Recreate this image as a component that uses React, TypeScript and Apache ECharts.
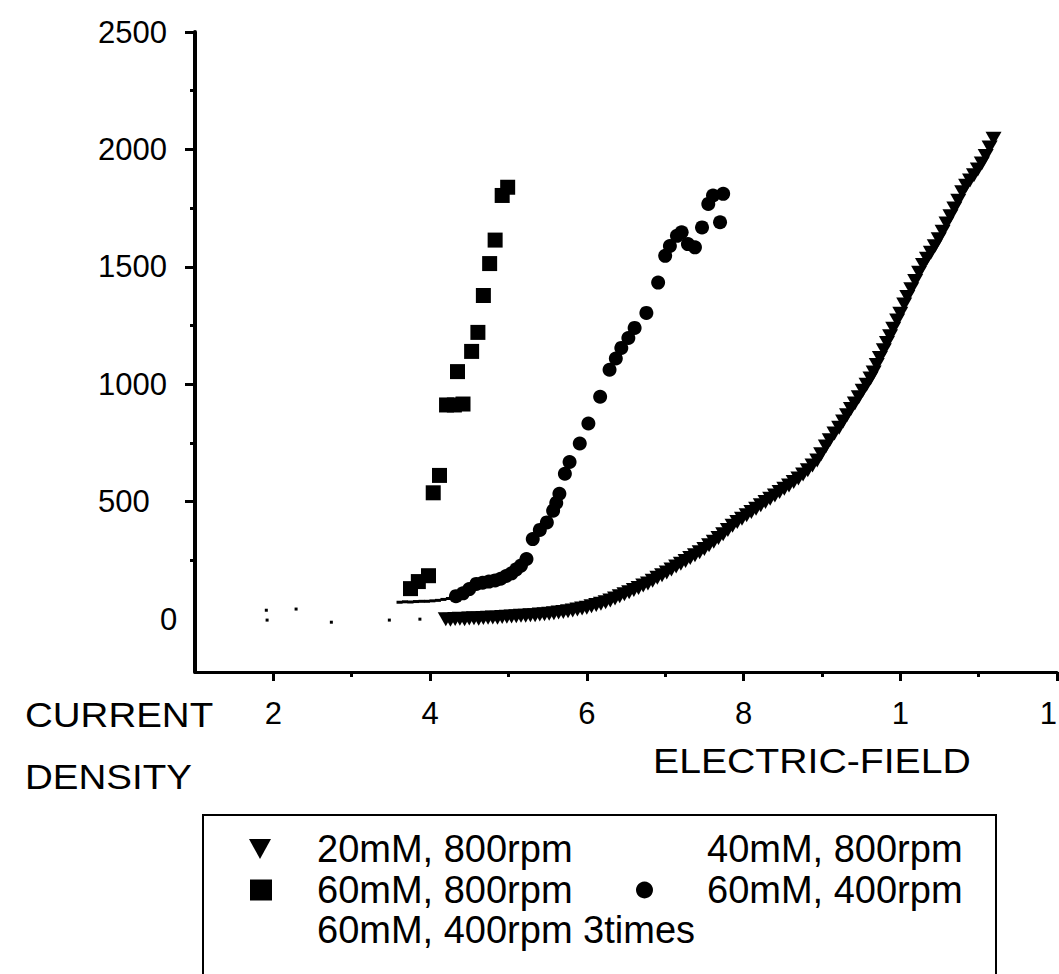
import React, { useEffect, useRef } from "react";
import * as echarts from "echarts";

const FONT = '"Liberation Sans", Arial, sans-serif';

// axis ticks / labels
const X_TICKS = [2, 4, 6, 8, 10, 12];
const X_TICK_LABELS = ["2", "4", "6", "8", "1", "1"];
const X_MINOR = [3, 5, 7, 9, 11];
const Y_TICKS = [0, 500, 1000, 1500, 2000, 2500];
const Y_TICK_MARKS = [500, 1000, 1500, 2000, 2500];
const Y_MINOR = [250, 750, 1250, 1750, 2250];

const SERIES_NAMES = [
  "20mM, 800rpm",
  "40mM, 800rpm",
  "60mM, 800rpm",
  "60mM, 400rpm",
  "60mM, 400rpm 3times",
];

// 20mM, 800rpm (down triangles)
const s20mM800: [number, number][] = [
  [4.2, 0], [4.26, -2], [4.32, 1], [4.38, 2], [4.44, 0], [4.5, 3], [4.56, 4], [4.62, 2],
  [4.68, 5], [4.74, 6], [4.8, 7], [4.86, 6], [4.92, 9], [4.98, 10], [5.04, 11], [5.1, 12],
  [5.16, 14], [5.22, 15], [5.28, 17], [5.34, 17], [5.4, 20], [5.46, 21], [5.52, 23], [5.58, 25],
  [5.64, 28], [5.7, 31], [5.76, 34], [5.82, 37], [5.88, 41], [5.94, 45], [6.0, 49], [6.06, 55],
  [6.12, 60], [6.18, 66], [6.24, 72], [6.3, 79], [6.36, 88], [6.42, 97], [6.48, 106], [6.54, 115],
  [6.6, 124], [6.66, 133], [6.72, 143], [6.78, 152], [6.84, 164], [6.9, 176], [6.96, 187], [7.02, 199],
  [7.08, 211], [7.14, 224], [7.2, 236], [7.26, 248], [7.32, 260], [7.38, 272], [7.44, 285], [7.5, 299],
  [7.56, 315], [7.62, 330], [7.68, 346], [7.74, 362], [7.8, 380], [7.86, 398], [7.92, 414], [7.98, 428],
  [8.04, 442], [8.1, 456], [8.16, 470], [8.22, 485], [8.28, 499], [8.34, 513], [8.4, 527], [8.46, 541],
  [8.52, 555], [8.58, 569], [8.64, 584], [8.7, 599], [8.76, 616], [8.82, 634], [8.88, 654], [8.94, 676],
  [8.99, 702], [9.05, 735], [9.1, 762], [9.16, 790], [9.22, 815], [9.27, 842], [9.32, 868], [9.37, 895],
  [9.42, 918], [9.47, 945], [9.52, 972], [9.57, 998], [9.62, 1025], [9.66, 1050], [9.7, 1082], [9.74, 1112],
  [9.79, 1145], [9.83, 1176], [9.87, 1205], [9.91, 1236], [9.96, 1272], [10.0, 1300], [10.05, 1340], [10.09, 1372],
  [10.14, 1405], [10.19, 1440], [10.24, 1475], [10.29, 1508], [10.34, 1535], [10.39, 1560], [10.44, 1588], [10.49, 1618],
  [10.54, 1650], [10.59, 1685], [10.64, 1716], [10.69, 1748], [10.74, 1782], [10.79, 1818], [10.84, 1845], [10.89, 1868],
  [10.94, 1890], [10.99, 1915], [11.04, 1940], [11.09, 1972], [11.14, 2008], [11.19, 2045],
];

// 40mM, 800rpm (tiny specks near zero)
const s40mM800: [number, number][] = [
  [1.91, 38], [2.29, 43], [1.92, -4], [2.74, -13], [3.48, -4], [3.87, 0],
];

// 60mM, 800rpm (squares)
const s60mM800: [number, number][] = [
  [3.75, 130], [3.85, 160], [3.98, 185], [4.04, 538], [4.12, 612], [4.21, 912], [4.31, 912],
  [4.42, 916], [4.35, 1054], [4.53, 1140], [4.61, 1221], [4.68, 1378], [4.76, 1514], [4.83, 1614],
  [4.92, 1804], [4.99, 1839],
];

// 60mM, 400rpm (circles)
const s60mM400: [number, number][] = [
  [4.33, 98], [4.42, 110], [4.5, 128], [4.59, 150], [4.67, 155], [4.75, 160], [4.83, 165], [4.9, 172],
  [4.97, 184], [5.04, 195], [5.1, 212], [5.16, 228], [5.23, 256], [5.31, 341], [5.4, 380], [5.49, 412],
  [5.57, 462], [5.61, 495], [5.65, 534], [5.72, 619], [5.78, 669], [5.91, 748], [6.02, 833], [6.17, 947],
  [6.29, 1062], [6.37, 1110], [6.44, 1155], [6.53, 1197], [6.61, 1240], [6.76, 1304], [6.91, 1433], [7.0, 1547],
  [7.06, 1589], [7.15, 1632], [7.21, 1647], [7.29, 1597], [7.38, 1583], [7.47, 1668], [7.55, 1768], [7.61, 1804],
  [7.74, 1811], [7.7, 1690],
];

// 60mM, 400rpm 3times (thin trace)
const s60mM400x3: [number, number][] = [
  [3.61, 72], [3.68, 74], [3.75, 73], [3.82, 75], [3.89, 76], [3.96, 76], [4.03, 78], [4.1, 80],
  [4.17, 84], [4.24, 88],
];

const DOWN_TRIANGLE = "path://M0,0 L10,0 L5,9 Z";

export default function App() {
  const ref = useRef<HTMLDivElement>(null);

  useEffect(() => {
    if (!ref.current) return;
    const chart = echarts.init(ref.current, undefined, { renderer: "svg" });

    const labelFont = { fontFamily: FONT, fontSize: 31, color: "#000" };
    const legendText = { fontFamily: FONT, fontSize: 38, color: "#000", lineHeight: 40 };
    const markStyle = { color: "#000", opacity: 1 };

    const mkLegend = (
      name: string,
      left: number,
      top: number,
      iconW: number,
      iconH: number,
      pad: number,
      hideIcon: boolean
    ) => ({
      show: true,
      selectedMode: false,
      orient: "horizontal",
      left,
      top,
      padding: 0,
      itemWidth: iconW,
      itemHeight: iconH,
      data: [hideIcon ? { name, itemStyle: { opacity: 0 } } : { name }],
      textStyle: { ...legendText, padding: [0, 0, 0, pad] },
    });

    const option: any = {
      animation: false,
      backgroundColor: "#fff",
      textStyle: { fontFamily: FONT },
      grid: {
        left: 195,
        right: 2,
        top: 32,
        bottom: 302,
        containLabel: false,
        outerBoundsMode: "none",
      },
      xAxis: [
        {
          type: "value",
          min: 1,
          max: 12,
          position: "bottom",
          splitLine: { show: false },
          axisLine: { show: true, onZero: false, lineStyle: { color: "#000", width: 3 } },
          axisTick: { show: true, customValues: X_TICKS, length: 9, lineStyle: { color: "#000", width: 3 } },
          axisLabel: {
            show: true,
            customValues: X_TICKS,
            margin: 26,
            alignMaxLabel: "right",
            ...labelFont,
            formatter: (v: number) => X_TICK_LABELS[X_TICKS.indexOf(v)] ?? String(v),
          },
        },
        {
          type: "value",
          min: 1,
          max: 12,
          position: "bottom",
          splitLine: { show: false },
          axisLine: { show: false, onZero: false },
          axisTick: { show: true, customValues: X_MINOR, length: 5, lineStyle: { color: "#000", width: 3 } },
          axisLabel: { show: false },
        },
      ],
      yAxis: [
        {
          type: "value",
          min: -225,
          max: 2500,
          position: "left",
          splitLine: { show: false },
          axisLine: { show: true, onZero: false, lineStyle: { color: "#000", width: 4 } },
          axisTick: { show: true, customValues: Y_TICK_MARKS, length: 10, lineStyle: { color: "#000", width: 3 } },
          axisLabel: {
            show: true,
            customValues: Y_TICKS,
            align: "left",
            margin: 97,
            ...labelFont,
            formatter: (v: number) => (v === 0 ? "{z|0}" : String(v)),
            rich: { z: { ...labelFont, padding: [0, 0, 0, 62] } },
          },
        },
        {
          type: "value",
          min: -225,
          max: 2500,
          position: "left",
          splitLine: { show: false },
          axisLine: { show: false, onZero: false },
          axisTick: { show: true, customValues: Y_MINOR, length: 5, lineStyle: { color: "#000", width: 3 } },
          axisLabel: { show: false },
        },
      ],
      legend: [
        mkLegend(SERIES_NAMES[0], 249, 829, 22, 20, 41, false),
        mkLegend(SERIES_NAMES[1], 636, 829, 17, 17, 49, true),
        mkLegend(SERIES_NAMES[2], 250, 870, 22, 21, 40, false),
        mkLegend(SERIES_NAMES[3], 636, 870, 17, 17, 49, false),
        mkLegend(SERIES_NAMES[4], 249, 910, 22, 20, 41, true),
      ],
      graphic: [
        {
          type: "rect",
          shape: { x: 203, y: 815, width: 793, height: 200 },
          style: { fill: "none", stroke: "#000", lineWidth: 2 },
          silent: true,
        },
        {
          type: "text",
          x: 25,
          y: 715,
          scaleX: 1.1,
          style: { text: "CURRENT", fontFamily: FONT, fontSize: 35, fill: "#000", align: "left", verticalAlign: "middle" },
        },
        {
          type: "text",
          x: 25,
          y: 777,
          scaleX: 1.1,
          style: { text: "DENSITY", fontFamily: FONT, fontSize: 35, fill: "#000", align: "left", verticalAlign: "middle" },
        },
        {
          type: "text",
          x: 653,
          y: 761,
          scaleX: 1.12,
          style: { text: "ELECTRIC-FIELD", fontFamily: FONT, fontSize: 35, fill: "#000", align: "left", verticalAlign: "middle" },
        },
      ],
      series: [
        {
          name: SERIES_NAMES[0],
          type: "scatter",
          data: s20mM800,
          symbol: DOWN_TRIANGLE,
          symbolSize: [16, 14],
          itemStyle: markStyle,
        },
        {
          name: SERIES_NAMES[1],
          type: "scatter",
          data: s40mM800,
          symbol: "rect",
          symbolSize: 3,
          itemStyle: markStyle,
        },
        {
          name: SERIES_NAMES[2],
          type: "scatter",
          data: s60mM800,
          symbol: "rect",
          symbolSize: 15,
          itemStyle: markStyle,
        },
        {
          name: SERIES_NAMES[3],
          type: "scatter",
          data: s60mM400,
          symbol: "circle",
          symbolSize: 14,
          itemStyle: markStyle,
        },
        {
          name: SERIES_NAMES[4],
          type: "scatter",
          data: s60mM400x3,
          symbol: "rect",
          symbolSize: [6, 3],
          itemStyle: markStyle,
        },
      ],
    };

    chart.setOption(option);
    return () => chart.dispose();
  }, []);

  return (
    <div
      ref={ref}
      style={{ position: "fixed", left: 0, top: 0, width: "1059px", height: "974px", background: "#fff" }}
    />
  );
}
